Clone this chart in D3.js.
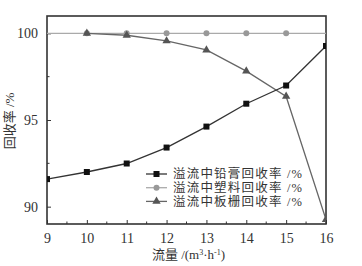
<!DOCTYPE html>
<html>
<head>
<meta charset="utf-8">
<script src="https://cdn.jsdelivr.net/npm/d3@7"></script>
<style>
  body { margin: 0; background: #fff; }
  text { font-family: "Liberation Serif", "Noto Sans CJK SC", serif; fill: #333; }
</style>
</head>
<body>
<svg id="chart"></svg>
<script>
const flow = [9, 10, 11, 12, 13, 14, 15, 16];
const leadPaste = [91.59, 92.0, 92.49, 93.41, 94.62, 95.94, 96.99, 99.27];
const plastic = [100, 100, 100, 100, 100, 100, 100, 100];
const gridFlow = [10, 11, 12, 13, 14, 15, 16];
const gridRate = [100.0, 99.89, 99.56, 99.04, 97.82, 96.36, 89.25];
const xTicks = [9, 10, 11, 12, 13, 14, 15, 16];
const yTicks = [90, 95, 100];
const legendNames = ['溢流中铅膏回收率 /%', '溢流中塑料回收率 /%', '溢流中板栅回收率 /%'];

const width = 362;
const height = 266;
const margin = { top: 16, right: 36, bottom: 42, left: 47 };
const w = width - margin.left - margin.right;
const h = height - margin.top - margin.bottom;

const svg = d3.select('#chart')
  .attr('width', width)
  .attr('height', height);

const g = svg.append('g')
  .attr('transform', `translate(${margin.left},${margin.top})`);

const x = d3.scaleLinear().domain([9, 16]).range([0, w]);
const y = d3.scaleLinear().domain([89, 101]).range([h, 0]);

g.append('clipPath').attr('id', 'plot')
  .append('rect').attr('width', w).attr('height', h);

// minor ticks
const xMinor = d3.range(9.5, 16, 1);
const yMinor = [92.5, 97.5];
g.selectAll('.xminor').data(xMinor).enter().append('line')
  .attr('x1', d => x(d)).attr('x2', d => x(d))
  .attr('y1', h).attr('y2', h - 2.5)
  .attr('stroke', '#333').attr('stroke-width', 1);
g.selectAll('.yminor').data(yMinor).enter().append('line')
  .attr('x1', 0).attr('x2', 2.5)
  .attr('y1', d => y(d)).attr('y2', d => y(d))
  .attr('stroke', '#333').attr('stroke-width', 1);

const xAxis = g.append('g')
  .attr('transform', `translate(0,${h})`)
  .call(d3.axisBottom(x).tickValues(xTicks).tickSize(-4).tickPadding(9).tickFormat(d3.format('d')));
const yAxis = g.append('g')
  .call(d3.axisLeft(y).tickValues(yTicks).tickSize(-4).tickPadding(9).tickFormat(d3.format('d')));

[xAxis, yAxis].forEach(a => {
  a.select('.domain').remove();
  a.selectAll('line').attr('stroke', '#333');
  a.selectAll('text').style('font-size', '14px').attr('fill', '#333')
    .style('font-family', '"Liberation Serif", serif');
});

g.append('rect')
  .attr('width', w).attr('height', h)
  .attr('fill', 'none').attr('stroke', '#333').attr('stroke-width', 1.6);

const plot = g.append('g').attr('clip-path', 'url(#plot)');

const line = d3.line().x(d => x(d[0])).y(d => y(d[1]));

const plasticPts = flow.map((f, i) => [f, plastic[i]]);
const leadPts = flow.map((f, i) => [f, leadPaste[i]]);
const gridPts = gridFlow.map((f, i) => [f, gridRate[i]]);

plot.append('path').datum(plasticPts).attr('d', line)
  .attr('fill', 'none').attr('stroke', '#aaa').attr('stroke-width', 1.3);
plot.selectAll('.pc').data(plasticPts.filter(d => d[0] > 9 && d[0] < 16)).enter().append('circle')
  .attr('cx', d => x(d[0])).attr('cy', d => y(d[1])).attr('r', 3)
  .attr('fill', '#999');

plot.append('path').datum(gridPts).attr('d', line)
  .attr('fill', 'none').attr('stroke', '#666').attr('stroke-width', 1.3);
const tri = d3.symbol().type(d3.symbolTriangle).size(30);
plot.selectAll('.tri').data(gridPts).enter().append('path')
  .attr('d', tri)
  .attr('transform', d => `translate(${x(d[0])},${y(d[1])})`)
  .attr('fill', '#555');

plot.append('path').datum(leadPts).attr('d', line)
  .attr('fill', 'none').attr('stroke', '#333').attr('stroke-width', 1.3);
plot.selectAll('.sq').data(leadPts).enter().append('rect')
  .attr('x', d => x(d[0]) - 3).attr('y', d => y(d[1]) - 3)
  .attr('width', 6).attr('height', 6)
  .attr('fill', '#111');

// legend
const legend = g.append('g').attr('transform', `translate(${146 - margin.left},${174 - margin.top})`);
const legendColors = ['#333', '#aaa', '#666'];
legendNames.forEach((name, i) => {
  const row = legend.append('g').attr('transform', `translate(0,${i * 13.7})`);
  row.append('line').attr('x1', 0).attr('x2', 21).attr('y1', 0).attr('y2', 0)
    .attr('stroke', legendColors[i]).attr('stroke-width', 1.3);
  if (i === 0) {
    row.append('rect').attr('x', 7.5).attr('y', -3).attr('width', 6).attr('height', 6).attr('fill', '#111');
  } else if (i === 1) {
    row.append('circle').attr('cx', 10.5).attr('cy', 0).attr('r', 3).attr('fill', '#999');
  } else {
    row.append('path').attr('d', tri).attr('transform', 'translate(10.5,0)').attr('fill', '#555');
  }
  row.append('text').attr('x', 27).attr('y', 0).attr('dy', '0.35em')
    .style('font-size', '12.5px').style('letter-spacing', '1.2px').text(name);
});

// axis titles
svg.append('text')
  .attr('x', margin.left + w / 2 + 2).attr('y', 259)
  .attr('text-anchor', 'middle').style('font-size', '13px')
  .html('流量 /(m<tspan dy="-4" font-size="8">3</tspan><tspan dy="4">·h</tspan><tspan dy="-4" font-size="8">-1</tspan><tspan dy="4">)</tspan>');

svg.append('text')
  .attr('transform', `translate(14,${margin.top + h / 2 + 1}) rotate(-90)`)
  .attr('text-anchor', 'middle').style('font-size', '13px')
  .text('回收率 /%');
</script>
</body>
</html>
